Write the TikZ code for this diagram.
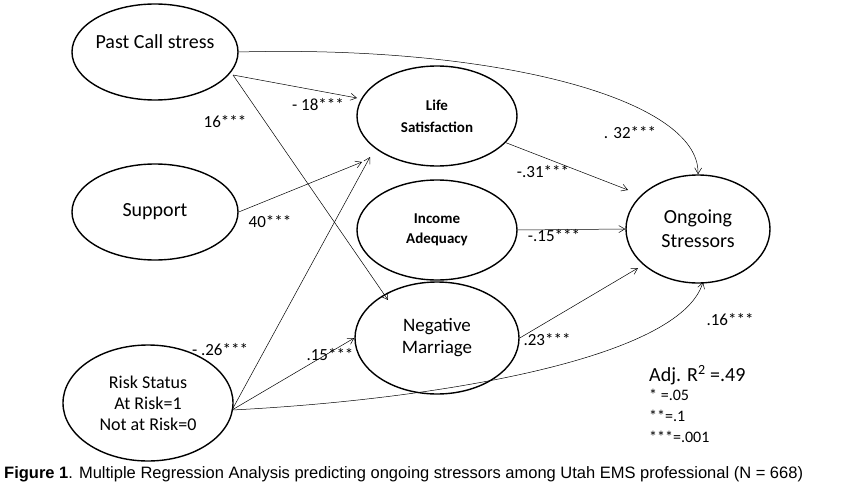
\documentclass[tikz,border=0pt]{standalone}
\usepackage{fontspec}
\setmainfont{Carlito}
\newfontfamily\capfont{Liberation Sans}
\usetikzlibrary{arrows.meta,shapes.geometric}
\begin{document}
\begin{tikzpicture}[x=1pt,y=-1pt,
  ell/.style={draw,line width=1.4pt,ellipse,inner sep=0pt},
  conn/.style={-{Straight Barb[length=6pt,width=7pt]},line width=0.5pt},
  lab/.style={font=\fontsize{17}{18}\selectfont,inner sep=0pt}]
\useasboundingbox (0,0) rectangle (853,492);
\node[ell,minimum width=166pt,minimum height=96pt] (pcs) at (155,52) {};
\node[font=\fontsize{20}{22}\selectfont] (pcst) at (155,42) {Past Call stress};
\node[ell,minimum width=166pt,minimum height=96pt,font=\fontsize{20}{22}\selectfont] (sup) at (155,212) {Support};
\node[ell,minimum width=170pt,minimum height=116pt,font=\fontsize{18}{21}\selectfont,align=center] (risk) at (148,403) {Risk Status\\At Risk=1\\Not at Risk=0};
\node[ell,minimum width=160pt,minimum height=100pt,font=\bfseries\fontsize{15}{22}\selectfont,align=center] (life) at (437,116) {Life\\Satisfaction};
\node[ell,minimum width=160pt,minimum height=100pt,font=\bfseries\fontsize{15}{20}\selectfont,align=center] (inc) at (437,230) {Income\\Adequacy};
\node[ell,minimum width=164pt,minimum height=112pt,font=\fontsize{19}{22}\selectfont,align=center] (neg) at (437,338) {Negative\\Marriage};
\node[ell,minimum width=144pt,minimum height=108pt,font=\fontsize{20}{24}\selectfont,align=center] (ong) at (698,229) {Ongoing\\Stressors};
\coordinate (a1) at (233,75);
\draw[conn] (a1) -- (357,98) coordinate (b1);
\draw[conn] (a1) -- (388,300) coordinate (b2);
\draw[conn] (pcs.east) .. controls (500,45) and (700,100) .. (ong.north);
\draw[conn] (sup.east) -- (362,162) coordinate (b3);
\coordinate (r1) at (232,410);
\draw[conn] (r1) -- (370,157) coordinate (b4);
\draw[conn] (r1) -- (neg.west);
\draw[conn] (r1) .. controls (430,400) and (680,360) .. (703,282) coordinate (b5);
\draw[conn] (life) -- (628,190) coordinate (b6);
\draw[conn] (inc.east) -- (ong.west);
\draw[conn] (neg.east) -- (638,268) coordinate (b7);
\node[lab] (l1) at (318,105) {- 18***};
\node[lab] (l2) at (225,122) {16***};
\node[lab] (l3) at (630,133) {. 32***};
\node[lab] (l4) at (270,222) {40***};
\node[lab] (l5) at (220,350) {- .26***};
\node[lab] (l6) at (330,355) {.15***};
\node[lab] (l7) at (730,320) {.16***};
\node[lab] (l8) at (543,172) {-.31***};
\node[lab] (l9) at (554,236) {-.15***};
\node[lab] (l10) at (547,340) {.23***};
\node[anchor=west,font=\fontsize{20}{22}\selectfont,inner sep=0pt] (leg1) at (649,375) {Adj. R\textsuperscript{2} =.49};
\node[anchor=west,font=\fontsize{16}{18}\selectfont,inner sep=0pt] (leg2) at (649,395) {* =.05};
\node[anchor=west,font=\fontsize{16}{18}\selectfont,inner sep=0pt] (leg3) at (649,416) {**=.1};
\node[anchor=west,font=\fontsize{16}{18}\selectfont,inner sep=0pt] (leg4) at (649,437) {***=.001};
\node[anchor=west,font=\capfont\fontsize{16.5}{18}\selectfont,inner sep=0pt] (cap) at (4,474) {\textbf{Figure 1}. Multiple Regression Analysis predicting ongoing stressors among Utah EMS professional (N = 668)};
\end{tikzpicture}
\end{document}
